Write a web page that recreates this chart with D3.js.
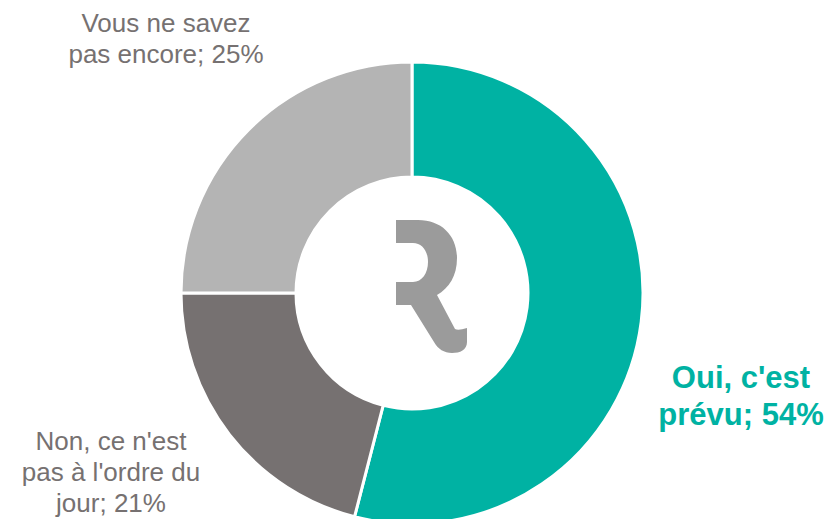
<!DOCTYPE html>
<html>
<head>
<meta charset="utf-8">
<script src="https://cdn.jsdelivr.net/npm/d3@7/dist/d3.min.js"></script>
<style>
  html, body { margin: 0; padding: 0; background: #ffffff; }
  svg { display: block; }
</style>
</head>
<body>
<svg id="chart" width="831" height="519"></svg>
<script>
// Réponses et parts (%)
const categories = ["Oui, c'est prévu", "Non, ce n'est pas à l'ordre du jour", "Vous ne savez pas encore"];
const values = [54, 21, 25];
const colors = ["#00B2A3", "#767171", "#B4B4B4"];
// Libellés affichés, ligne par ligne
const labelLines = [
  ["Oui, c'est", "prévu; 54%"],
  ["Non, ce n'est", "pas à l'ordre du", "jour; 21%"],
  ["Vous ne savez", "pas encore; 25%"]
];

const svg = d3.select("#chart");
const cx = 412, cy = 293;
const outerR = 231, innerR = 116;

const data = categories.map((c, i) => ({ name: c, value: values[i], color: colors[i], lines: labelLines[i] }));

const pie = d3.pie().sort(null).value(d => d.value).startAngle(0).endAngle(2 * Math.PI);
const arc = d3.arc().innerRadius(innerR).outerRadius(outerR);

const g = svg.append("g").attr("transform", `translate(${cx},${cy})`);

g.selectAll("path.slice")
  .data(pie(data))
  .join("path")
  .attr("class", "slice")
  .attr("d", arc)
  .attr("fill", d => d.data.color)
  .attr("stroke", "#ffffff")
  .attr("stroke-width", 3)
  .attr("stroke-linejoin", "miter");

// Logo « R » au centre de l'anneau
svg.append("path")
  .attr("fill", "#9B9B9B")
  .attr("d",
    "M396,220 H418 C442,220 457,236 457,258 C457,276 449,288 437,295 " +
    "L455,329 Q458,331 467,328 L467,342 C467,350 460,353 452,353 " +
    "C444,353 438,349 434,342 L411,305 H396 V282 H413 " +
    "C422,282 428,273 428,262 C428,251 422,243 413,243 H396 Z");

// Libellés
const labelLayout = [
  { x: 741, y: 388, size: 31, weight: "bold", fill: colors[0], lh: 37 },
  { x: 111, y: 450, size: 26, weight: "normal", fill: "#767171", lh: 31 },
  { x: 166, y: 32, size: 26, weight: "normal", fill: "#767171", lh: 31 }
];

data.forEach((d, i) => {
  const L = labelLayout[i];
  const t = svg.append("text")
    .attr("x", L.x)
    .attr("y", L.y)
    .attr("text-anchor", "middle")
    .attr("font-family", "'Liberation Sans', Arial, sans-serif")
    .attr("font-size", L.size)
    .attr("font-weight", L.weight)
    .attr("fill", L.fill);
  d.lines.forEach((line, j) => {
    t.append("tspan").attr("x", L.x).attr("y", L.y + j * L.lh).text(line);
  });
});
</script>
</body>
</html>
